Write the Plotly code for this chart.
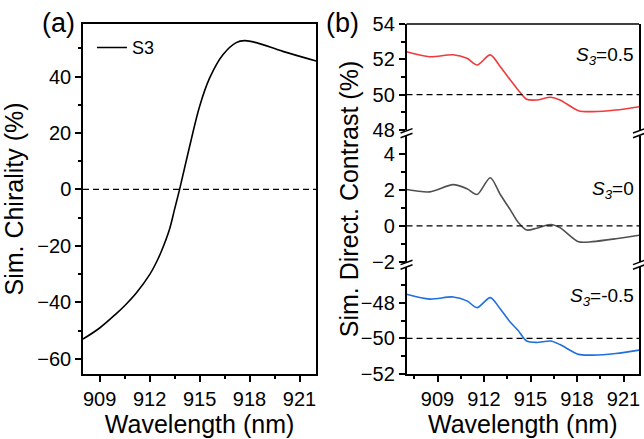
import plotly.graph_objects as go

# ---- data ----
wl_a = [908.0, 909.0, 910.0, 910.5, 911.2, 912.0, 912.4, 912.7, 913.2, 913.5, 913.8, 914.4, 915.0,
        915.6, 916.4, 917.2, 917.7, 918.4, 920.0, 922.0]
chirality = [-53.0, -49.1, -44.0, -41.2, -36.7, -30.2, -25.9, -22.0, -14.0, -7.0, 0.0, 15.2, 29.4,
             39.4, 47.7, 52.0, 52.7, 52.0, 48.9, 45.5]

wl_b = [907.0, 908.5, 910.0, 910.9, 911.55, 912.4, 913.05, 913.7, 914.2, 914.75,
        915.4, 916.3, 916.9, 918.1, 919.0, 920.5, 922.0]
contrast_p05 = [52.43, 52.15, 52.26, 52.06, 51.68, 52.25, 51.58, 50.83, 50.27, 49.74,
                49.70, 49.85, 49.70, 49.09, 49.04, 49.13, 49.32]
contrast_0 = [2.03, 1.90, 2.30, 2.07, 1.75, 2.69, 1.75, 0.89, 0.20, -0.23,
              -0.13, 0.08, -0.10, -0.89, -0.88, -0.72, -0.52]
contrast_m05 = [-47.53, -47.80, -47.68, -47.90, -48.28, -47.72, -48.35, -49.10, -49.56, -50.15,
                -50.23, -50.15, -50.35, -50.90, -50.94, -50.85, -50.66]

x_ticks = [909, 912, 915, 918, 921]
labels_b = ["<i>S</i><sub><i>3</i></sub>=0.5", "<i>S</i><sub><i>3</i></sub>=0",
            "<i>S</i><sub><i>3</i></sub>=-0.5"]

FONT = "Liberation Sans, Arial, sans-serif"
W, H = 644, 439
ML, MR, MT, MB = 83, 3, 24, 65
PW, PH = W - ML - MR, H - MT - MB

def px(xp):
    return (xp - ML) / PW

def py(yp):
    return (H - MB - yp) / PH

fig = go.Figure()

fig.add_trace(go.Scatter(x=wl_a, y=chirality, mode="lines", name="S3",
                         line=dict(color="black", width=1.6, shape="spline", smoothing=1.0),
                         xaxis="x", yaxis="y"))
fig.add_trace(go.Scatter(x=wl_b, y=contrast_p05, mode="lines", showlegend=False,
                         line=dict(color="#EE3B3B", width=1.6, shape="spline", smoothing=0.8),
                         xaxis="x2", yaxis="y2"))
fig.add_trace(go.Scatter(x=wl_b, y=contrast_0, mode="lines", showlegend=False,
                         line=dict(color="#505050", width=1.6, shape="spline", smoothing=0.8),
                         xaxis="x2", yaxis="y3"))
fig.add_trace(go.Scatter(x=wl_b, y=contrast_m05, mode="lines", showlegend=False,
                         line=dict(color="#1F6FDF", width=1.6, shape="spline", smoothing=0.8),
                         xaxis="x2", yaxis="y4"))

ax_common = dict(showline=True, linecolor="black", linewidth=1.5, ticks="outside",
                 ticklen=6, tickwidth=1.5, tickcolor="black", showgrid=False, zeroline=False,
                 tickfont=dict(family=FONT, size=20, color="black"))
minor_common = dict(ticks="outside", ticklen=3.5, tickwidth=1.5, tickcolor="black", showgrid=False)

da = [0, px(317)]
db = [px(407.7), 1]
d_top = [py(130), 1]
d_mid = [py(261.7), py(136.3)]
d_bot = [0, py(267)]

title_font = dict(family=FONT, size=25, color="black")

fig.update_layout(
    width=W, height=H, margin=dict(l=ML, r=MR, t=MT, b=MB),
    paper_bgcolor="white", plot_bgcolor="white",
    font=dict(family=FONT, color="black"),
    showlegend=True,
    legend=dict(x=px(92), y=0.985, xanchor="left", yanchor="top", bgcolor="rgba(0,0,0,0)",
                font=dict(family=FONT, size=18, color="black")),
    xaxis=dict(domain=da, range=[908, 922], tickvals=x_ticks, mirror=True, anchor="y",
               minor=dict(tickvals=[910.5, 913.5, 916.5, 919.5], **minor_common),
               title=dict(text="Wavelength (nm)", font=title_font, standoff=6), **ax_common),
    yaxis=dict(domain=[0, 1], range=[-65.4, 58.6], tickvals=[-60, -40, -20, 0, 20, 40],
               mirror=True, anchor="x",
               minor=dict(tickvals=[-50, -30, -10, 10, 30, 50], **minor_common),
               title=dict(text="Sim. Chirality (%)", font=title_font, standoff=8), **ax_common),
    xaxis2=dict(domain=db, range=[907, 922], tickvals=x_ticks, anchor="y4",
                minor=dict(tickvals=[907.5, 910.5, 913.5, 916.5, 919.5], **minor_common),
                title=dict(text="Wavelength (nm)", font=title_font, standoff=6), **ax_common),
    yaxis2=dict(domain=d_top, range=[48, 54], tickvals=[48, 50, 52, 54], anchor="x2", mirror=True,
                minor=dict(tickvals=[49, 51, 53], **minor_common), **ax_common),
    yaxis3=dict(domain=d_mid, range=[-2, 5], tickvals=[-2, 0, 2, 4], anchor="x2", mirror=True,
                minor=dict(tickvals=[-1, 1, 3], **minor_common),
                title=dict(text="Sim. Direct. Contrast (%)", font=title_font, standoff=6),
                **ax_common),
    yaxis4=dict(domain=d_bot, range=[-52, -46], tickvals=[-52, -50, -48], anchor="x2", mirror=True,
                minor=dict(tickvals=[-51, -49, -47], **minor_common), **ax_common),
)

shapes = []
# dashed reference lines
for xr, yr, yv in [("x domain", "y", 0), ("x2 domain", "y2", 50),
                   ("x2 domain", "y3", 0), ("x2 domain", "y4", -50)]:
    shapes.append(dict(type="line", xref=xr, yref=yr, x0=0, x1=1, y0=yv, y1=yv,
                       line=dict(color="black", width=1.2, dash="6px,4px")))
# top frame line of panel b
shapes.append(dict(type="line", xref="paper", yref="paper", x0=db[0], x1=1, y0=1, y1=1,
                   line=dict(color="black", width=1.5)))
# axis break marks
for xa in [407.7, 641.0]:
    for yc in [130.8, 135.5, 262.4, 267.0]:
        shapes.append(dict(type="line", xref="paper", yref="paper",
                           x0=px(xa - 6), x1=px(xa + 6), y0=py(yc + 2.2), y1=py(yc - 2.2),
                           line=dict(color="black", width=1.5)))
fig.update_layout(shapes=shapes)

ann = [
    dict(text="(a)", x=px(40), y=py(23), xanchor="left", yanchor="middle"),
    dict(text="(b)", x=px(325), y=py(23), xanchor="left", yanchor="middle"),
]
annotations = []
for a in ann:
    annotations.append(dict(xref="paper", yref="paper", showarrow=False,
                            font=dict(family=FONT, size=27, color="black"), **a))
for lab, yr, yv in zip(labels_b, ["y2", "y3", "y4"], [52.2, 2.0, -47.7]):
    annotations.append(dict(text=lab, xref="x2 domain", yref=yr, x=0.985, y=yv,
                            xanchor="right", yanchor="middle", showarrow=False,
                            font=dict(family=FONT, size=19, color="black")))
fig.update_layout(annotations=annotations)

fig.write_html("out.html")
